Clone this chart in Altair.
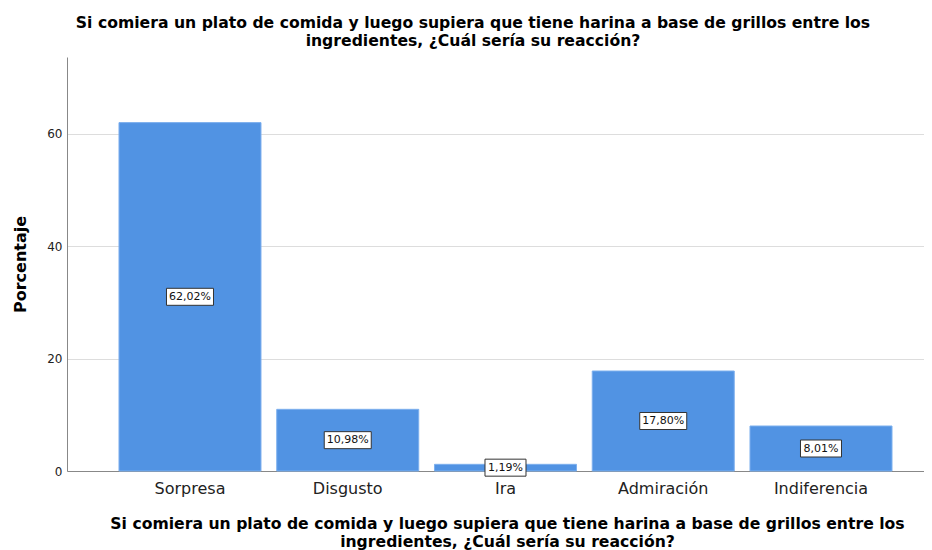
import altair as alt
import pandas as pd

categories = ["Sorpresa", "Disgusto", "Ira", "Admiración", "Indiferencia"]
percentages = [62.02, 10.98, 1.19, 17.80, 8.01]
y_ticks = [0, 20, 40, 60]
question = ["Si comiera un plato de comida y luego supiera que tiene harina a base de grillos entre los",
            "ingredientes, ¿Cuál sería su reacción?"]

df = pd.DataFrame({"cat": categories, "pct": percentages})
df["mid"] = df["pct"] / 2
df["label"] = [f"{v:.2f}".replace(".", ",") + "%" for v in percentages]


def box_path(lbl):
    w = (6 * len(lbl) + 11) / 2
    h = 8.5
    return f"M{-w},{-h}H{w}V{h}H{-w}Z"


df["box"] = [box_path(l) for l in df["label"]]

FONT = "DejaVu Sans"

x = alt.X("cat:N", sort=categories,
          scale=alt.Scale(paddingInner=0.0998, paddingOuter=0.2662, align=0.619),
          axis=alt.Axis(title=question, labelAngle=0, ticks=False, labelPadding=9,
                        labelFontSize=16, labelFont=FONT, labelColor="#222",
                        titleFont=FONT, titleFontSize=15.65, titleFontWeight="bold",
                        titleColor="#000", titleLineHeight=18, titlePadding=20,
                        titleX=440, domainColor="#888", grid=False))
y = alt.Y("pct:Q", scale=alt.Scale(domain=[0, 73.7], nice=False),
          axis=alt.Axis(title="Porcentaje", values=y_ticks, ticks=False, labelPadding=5,
                        labelFontSize=12, labelFont=FONT, labelColor="#222",
                        titleFont=FONT, titleFontSize=16, titleFontWeight="bold",
                        titleColor="#000", titleX=-47, titleY=207, titleBaseline="middle",
                        titleAngle=-90, titleAlign="center",
                        domainColor="#888", gridColor="#dddddd", grid=True))

bars = alt.Chart(df).mark_bar(color="#5193e3", stroke="#7db0ee", strokeWidth=1).encode(x=x, y=y)

boxes = alt.Chart(df).mark_point(filled=True, fill="white", stroke="#333", strokeWidth=1,
                                 opacity=1).encode(
    x=alt.X("cat:N", sort=categories),
    y=alt.Y("mid:Q"),
    shape=alt.Shape("box:N", scale=None),
    size=alt.value(4),
)

texts = alt.Chart(df).mark_text(fontSize=11, font=FONT, color="#111", baseline="middle").encode(
    x=alt.X("cat:N", sort=categories),
    y=alt.Y("mid:Q"),
    text="label:N",
)

chart = alt.layer(bars, boxes, texts).properties(
    width=857, height=414,
    background="white",
    title=alt.TitleParams(text=question, font=FONT, fontSize=15.65, fontWeight="bold",
                          color="#000", anchor="middle", dx=-22.5, offset=7, lineHeight=18),
    padding={"left": 59, "top": 49, "right": 0, "bottom": 79},
    autosize=alt.AutoSizeParams(type="none"),
).configure_view(stroke=None)

chart.save("out.html", embed_options={"renderer": "svg", "actions": False})
